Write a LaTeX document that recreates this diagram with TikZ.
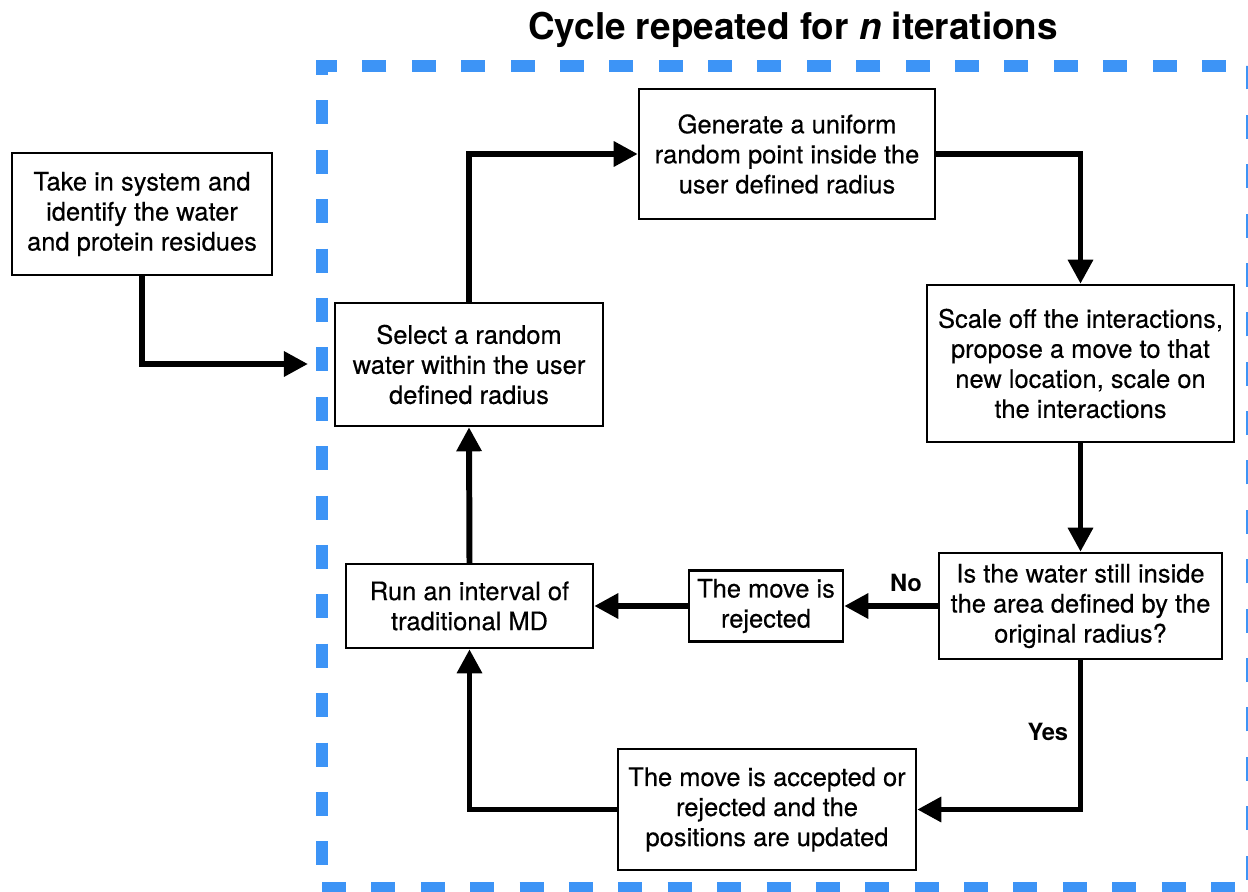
\documentclass[tikz,border=0pt]{standalone}
\usepackage{fontspec}
\setmainfont{TeX Gyre Heros}
\newfontfamily\boitefont{TeX Gyre Heros}[FakeBold=0.35]
\usetikzlibrary{arrows.meta}
\definecolor{cadrebleu}{RGB}{61,148,246}

\begin{document}
\begin{tikzpicture}[x=0.02cm, y=-0.02cm,
  boite/.style={draw, line width=1.4pt, align=center, inner sep=2pt,
    font=\boitefont\fontsize{14.5}{17.1}\selectfont},
  fleche/.style={line width=3.4pt, -{Triangle[length=13.7pt,width=13.7pt]}},
  etiq/.style={font=\bfseries\fontsize{13.5}{16}\selectfont}]
  \useasboundingbox (0,0) rectangle (1248,892);
  % Cadre
  \draw[cadrebleu, line width=6.8pt, dash pattern=on 0.48cm off 0.508cm]
    (322,888) -- (1252,888) -- (1252,66) -- (322,66) -- cycle;
  \node[font=\bfseries\fontsize{21}{25}\selectfont] (titre) at (793,30)
    {Cycle repeated for \textit{n} iterations};
  % Boites
  \node[boite, minimum width=5.2cm, minimum height=2.44cm] (systeme) at (142,214)
    {Take in system and\\identify the water\\and protein residues};
  \node[boite, minimum width=5.36cm, minimum height=2.46cm] (choix) at (469,364.5)
    {Select a random\\water within the user\\defined radius};
  \node[boite, minimum width=5.92cm, minimum height=2.6cm] (genere) at (787,154)
    {Generate a uniform\\random point inside the\\user defined radius};
  \node[boite, minimum width=6.14cm, minimum height=3.14cm] (echelle) at (1080.5,363.5)
    {Scale off the interactions,\\propose a move to that\\new location, scale on\\the interactions};
  \node[boite, minimum width=5.66cm, minimum height=2.12cm] (test) at (1080.5,606)
    {Is the water still inside\\the area defined by the\\original radius?};
  \node[boite, minimum width=3.08cm, minimum height=1.42cm] (rejet) at (766,606)
    {The move is\\rejected};
  \node[boite, minimum width=4.94cm, minimum height=1.68cm] (dynamique) at (469.5,606)
    {Run an interval of\\traditional MD};
  \node[boite, minimum width=5.96cm, minimum height=2.42cm] (maj) at (767,809.5)
    {The move is accepted or\\rejected and the\\positions are updated};
  \coordinate (entree) at (308,364);
  % Fleches
  \draw[fleche] (systeme.south) |- (entree);
  \draw[fleche] (choix.north) |- (genere.west);
  \draw[fleche] (genere.east) -| (echelle.north);
  \draw[fleche] (echelle.south) -- (test.north);
  \draw[fleche] (test.west) -- node[etiq, above=3pt, pos=0.34] {No} (rejet.east);
  \draw[fleche] (rejet.west) -- (dynamique.east);
  \draw[fleche] (test.south) |- node[etiq, left=2pt, pos=0.24] {Yes} (maj.east);
  \draw[fleche] (maj.west) -| (dynamique.south);
  \draw[fleche] (dynamique.north) -- (choix.south);
\end{tikzpicture}
\end{document}
